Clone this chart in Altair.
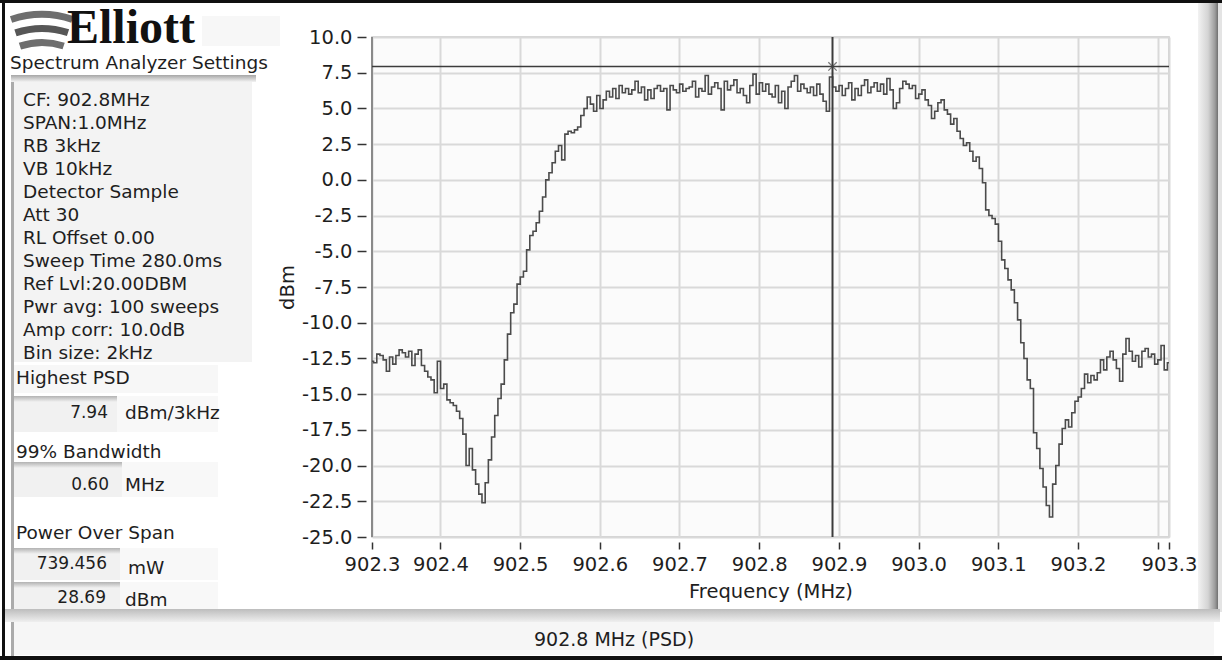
import altair as alt
import pandas as pd

# ---------------- data ----------------
FREQ_START_MHZ = 902.3142
FREQ_STEP_MHZ = 0.004
LEVEL_DBM = [
    -12.7, -12.8, -12.2, -12.3, -12.6, -13.4, -12.4, -12.9, -12.3, -11.9,
    -12.1, -12.4, -12.0, -13.0, -12.2, -11.9, -13.0, -13.4, -13.8, -14.0,
    -14.9, -12.7, -14.6, -14.3, -15.4, -15.6, -15.8, -16.2, -16.7, -17.8,
    -20.0, -18.8, -20.3, -21.3, -22.0, -22.6, -21.2, -19.6, -18.0, -16.5,
    -15.3, -14.3, -12.6, -10.8, -9.3, -8.7, -7.3, -6.8, -6.4, -4.9,
    -3.9, -3.6, -3.0, -2.2, -1.2, 0.0, 0.5, 1.2, 2.0, 2.4,
    1.4, 3.2, 3.4, 3.3, 3.5, 3.7, 4.5, 5.0, 5.8, 5.3,
    4.8, 5.9, 5.0, 5.6, 6.2, 5.8, 6.4, 5.7, 6.6, 6.1,
    6.4, 6.0, 6.3, 6.9, 6.1, 6.5, 5.6, 6.3, 5.7, 6.4,
    6.6, 6.2, 6.4, 4.9, 6.6, 6.3, 6.1, 6.7, 6.2, 6.4,
    6.5, 6.9, 5.8, 6.4, 6.2, 7.3, 6.0, 6.5, 6.8, 6.4,
    4.9, 6.9, 6.3, 6.6, 7.0, 6.1, 6.4, 5.9, 5.4, 6.6,
    7.4, 6.0, 6.8, 6.2, 6.7, 6.0, 5.8, 6.6, 5.4, 6.2,
    5.0, 6.5, 6.9, 7.3, 6.2, 6.7, 6.4, 6.1, 6.5, 5.9,
    6.7, 6.0, 5.5, 4.8, 7.2, 6.5, 6.2, 6.6, 5.9, 6.4,
    6.8, 5.6, 6.4, 5.9, 6.6, 7.0, 6.1, 6.5, 6.8, 6.2,
    6.7, 6.0, 7.1, 6.3, 5.0, 5.4, 6.4, 6.9, 6.7, 6.4,
    6.6, 5.7, 6.0, 6.3, 5.6, 5.2, 4.3, 4.8, 5.4, 5.6,
    4.9, 4.6, 3.9, 4.3, 3.4, 2.9, 2.4, 2.6, 2.0, 1.3,
    1.6, 0.8, -0.2, -2.1, -2.5, -2.7, -3.1, -4.3, -5.6, -6.2,
    -7.0, -7.7, -8.6, -9.8, -11.4, -12.5, -14.0, -14.6, -17.7, -18.8,
    -20.2, -21.5, -22.8, -23.6, -21.3, -20.0, -18.5, -17.4, -16.8, -17.3,
    -16.3, -15.5, -15.2, -14.6, -13.6, -14.2, -13.7, -14.0, -13.5, -12.6,
    -13.3, -12.4, -12.0, -12.6, -13.2, -14.1, -12.2, -11.1, -12.0, -12.7,
    -12.3, -13.1, -12.0, -11.8, -12.4, -12.2, -12.9, -12.6, -11.6, -13.3, -12.8,
]
FREQ_MHZ = [round(FREQ_START_MHZ + FREQ_STEP_MHZ * i, 4) for i in range(len(LEVEL_DBM))]

X_DOMAIN = [902.3142, 903.3142]
X_TICKS = [902.3142, 902.4, 902.5, 902.6, 902.7, 902.8, 902.9, 903.0, 903.1, 903.2, 903.3, 903.3142]
Y_DOMAIN = [-25.0, 10.0]
Y_TICKS = [-25.0, -22.5, -20.0, -17.5, -15.0, -12.5, -10.0, -7.5, -5.0, -2.5, 0.0, 2.5, 5.0, 7.5, 10.0]

CURSOR_FREQ = [902.892]
CURSOR_LEVEL = [7.94]

SETTINGS_LINES = [
    "CF: 902.8MHz", "SPAN:1.0MHz", "RB 3kHz", "VB 10kHz", "Detector Sample", "Att 30",
    "RL Offset 0.00", "Sweep Time 280.0ms", "Ref Lvl:20.00DBM", "Pwr avg: 100 sweeps",
    "Amp corr: 10.0dB", "Bin size: 2kHz",
]
HIGHEST_PSD = "7.94"
BANDWIDTH_99 = "0.60"
POWER_MW = "739.456"
POWER_DBM = "28.69"
FOOTER = "902.8 MHz (PSD)"

# ---------------- layout ----------------
OX, OY = 372, 37          # plot origin on the page
PW, PH = 797, 500          # plot size
FONT = "DejaVu Sans"
INK = "#1e1e1e"

X_SCALE = alt.Scale(domain=X_DOMAIN, nice=False, zero=False)
Y_SCALE = alt.Scale(domain=Y_DOMAIN, nice=False, zero=False)
X_AXIS = alt.Axis(
    values=X_TICKS, title="Frequency (MHz)",
    labelExpr="abs(datum.value - 903.3) < 0.0005 ? '' : format(datum.value, '.1f')",
    labelOverlap=False, labelFlush=False, domain=False, offset=5,
    tickSize=7, tickColor="#333333", tickWidth=1.5,
    grid=True, gridColor="#d9d9d9", gridWidth=2,
    labelFont=FONT, labelFontSize=19.5, labelColor=INK, labelPadding=6,
    titleFont=FONT, titleFontSize=19.5, titleFontWeight="normal", titleColor=INK, titlePadding=9,
)
Y_AXIS = alt.Axis(
    values=Y_TICKS, title="dBm",
    labelExpr="(datum.value < 0 ? '-' : '') + format(abs(datum.value), '.1f')",
    labelOverlap=False, labelFlush=False, domain=False, offset=6,
    tickSize=9, tickColor="#333333", tickWidth=1.5,
    grid=True, gridColor="#d9d9d9", gridWidth=2,
    labelFont=FONT, labelFontSize=19.5, labelColor=INK, labelPadding=5,
    titleFont=FONT, titleFontSize=19.5, titleFontWeight="normal", titleColor=INK, titlePadding=4,
)


def X(field="freq"):
    return alt.X(f"{field}:Q", scale=X_SCALE, axis=X_AXIS)


def Y(field="dbm"):
    return alt.Y(f"{field}:Q", scale=Y_SCALE, axis=Y_AXIS)


spectrum = pd.DataFrame({"freq": FREQ_MHZ, "dbm": LEVEL_DBM})
cursor = pd.DataFrame({"freq": CURSOR_FREQ, "dbm": CURSOR_LEVEL})
ONE = pd.DataFrame({"k": [0]})

trace = alt.Chart(spectrum).mark_line(
    interpolate="step", color="#4b4b4b", strokeWidth=1.6
).encode(x=X(), y=Y())

h_cursor = alt.Chart(cursor).mark_rule(color="#3c3c3c", strokeWidth=1.6).encode(
    y=Y(), x=alt.value(0), x2=alt.value(PW))
v_cursor = alt.Chart(cursor).mark_rule(color="#3c3c3c", strokeWidth=2).encode(
    x=X(), y=alt.value(0), y2=alt.value(PH))
marker = alt.Chart(cursor).mark_point(
    shape="M-1,-1L1,1M1,-1L-1,1", size=70, filled=False, color="#444444", strokeWidth=1.3
).encode(x=X(), y=Y())
left_frame = alt.Chart(ONE).mark_rule(color="#8a8a8a", strokeWidth=2).encode(
    x=alt.value(0), y=alt.value(0), y2=alt.value(PH))


# ---------------- decorations (absolute page pixels) ----------------
def box(x1, y1, x2, y2, color):
    return alt.Chart(ONE).mark_rect(color=color).encode(
        x=alt.value(x1 - OX), x2=alt.value(x2 - OX), y=alt.value(y1 - OY), y2=alt.value(y2 - OY))


def gbox(x1, y1, x2, y2, stops, vertical=True):
    grad = alt.LinearGradient(
        gradient="linear",
        stops=[alt.GradientStop(offset=o, color=c) for o, c in stops],
        x1=0, y1=0, x2=0 if vertical else 1, y2=1 if vertical else 0)
    return alt.Chart(ONE).mark_rect(color=grad).encode(
        x=alt.value(x1 - OX), x2=alt.value(x2 - OX), y=alt.value(y1 - OY), y2=alt.value(y2 - OY))


def arc(cx, cy, r1, r2, t1, t2, color):
    return alt.Chart(ONE).mark_arc(
        color=color, radius=r2, radius2=r1, theta=t1, theta2=t2
    ).encode(x=alt.value(cx - OX), y=alt.value(cy - OY))


def text(s, x, y, size=18.5, align="left", font=FONT, color=INK, weight="normal", baseline="middle"):
    return alt.Chart(pd.DataFrame({"label": [s]})).mark_text(
        align=align, baseline=baseline, font=font, fontSize=size, color=color, fontWeight=weight,
    ).encode(x=alt.value(x - OX), y=alt.value(y - OY), text="label:N")


deco = []
# window frame
deco.append(box(0, 0, 1222, 3, "#101010"))
deco.append(box(2, 0, 5, 660, "#101010"))
deco.append(box(0, 656, 1222, 660, "#101010"))
deco.append(gbox(1198, 3, 1218, 612, [(0, "#f2f2f2"), (0.5, "#d4d4d4"), (0.85, "#9c9c9c"), (1, "#707070")], vertical=False))
deco.append(box(1218, 3, 1222, 612, "#e4e4e4"))
# left bevel
deco.append(box(11, 76, 14, 656, "#ababab"))
# settings box
deco.append(box(14, 80, 252, 362, "#f3f3f3"))
deco.append(gbox(11, 75, 256, 82, [(0, "#a6a6a6"), (1, "#f3f3f3")]))
deco.append(box(14, 365, 218, 393, "#f7f7f7"))
# readout boxes
for y1, y2, xr in [(396, 432, 117), (462, 497, 122), (548, 580, 120), (582, 612, 120)]:
    deco.append(box(14, y1, xr, y2, "#f1f1f1"))
    deco.append(gbox(14, y1, xr + 3, y1 + 6, [(0, "#b2b2b2"), (1, "#f1f1f1")]))
    deco.append(box(xr, y1, 218, y2, "#f8f8f8"))
# footer bar
deco.append(gbox(5, 609, 1220, 622, [(0, "#bdbdbd"), (1, "#efefef")]))
deco.append(box(14, 622, 1214, 655, "#f6f6f6"))

# logo: three curved swooshes + wordmark
deco.append(box(202, 16, 280, 46, "#f7f7f7"))
for r1, r2, col in [(66, 73, "#6e6e6e"), (80, 87, "#575757"), (94, 101, "#6e6e6e")]:
    deco.append(arc(42, 112, r1, r2, 5.96, 6.6, col))
deco.append(text("Elliott", 67, 43, size=48, font="Liberation Serif", color="#111111",
                 weight="bold", baseline="alphabetic"))
deco.append(text("Spectrum Analyzer Settings", 10, 63))
for k, line in enumerate(SETTINGS_LINES):
    deco.append(text(line, 23, 100 + 23 * k))
deco.append(text("Highest PSD", 16, 378))
deco.append(text(HIGHEST_PSD, 108, 413, size=17, align="right"))
deco.append(text("dBm/3kHz", 125, 413))
deco.append(text("99% Bandwidth", 16, 452))
deco.append(text(BANDWIDTH_99, 109, 485, size=17, align="right"))
deco.append(text("MHz", 125, 485))
deco.append(text("Power Over Span", 16, 533))
deco.append(text(POWER_MW, 107, 564, size=17, align="right"))
deco.append(text("mW", 128, 568))
deco.append(text(POWER_DBM, 106, 598, size=17, align="right"))
deco.append(text("dBm", 125, 600))
deco.append(text(FOOTER, 614, 640, size=19, align="center"))

chart = alt.layer(
    *deco, left_frame, trace, h_cursor, v_cursor, marker
).properties(
    width=PW, height=PH,
    padding={"left": OX, "top": OY, "right": 1222 - OX - PW, "bottom": 662 - OY - PH},
    autosize=alt.AutoSizeParams(type="none"),
    background="white",
).configure_view(fill="#fbfbfb", stroke="#c6c6c6", strokeWidth=1.5)

chart.save("out.html", embed_options={"renderer": "svg", "actions": False})
